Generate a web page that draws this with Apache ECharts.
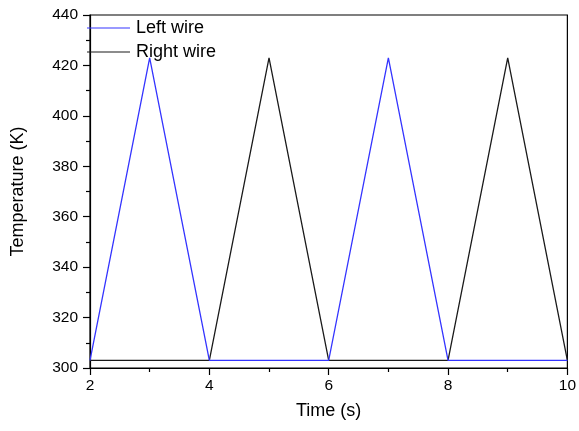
<!DOCTYPE html>
<html>
<head>
<meta charset="utf-8">
<script src="https://cdn.jsdelivr.net/npm/echarts@6/dist/echarts.min.js"></script>
<style>html,body{margin:0;padding:0;background:#fff;}#c{width:579px;height:431px;}</style>
</head>
<body>
<div id="c"></div>
<script>
const times = [2, 3, 4, 5, 6, 7, 8, 9, 10];
const leftWire = [303, 423, 303, 303, 303, 423, 303, 303, 303];
const rightWire = [303, 303, 303, 423, 303, 303, 303, 423, 303];
const seriesNames = ['Left wire', 'Right wire'];

const chart = echarts.init(document.getElementById('c'), null, {renderer: 'canvas'});
const font = '"Liberation Sans", Arial, sans-serif';
const axisCommon = {
  axisLine: {show: true, lineStyle: {color: '#000', width: 1.2}},
  axisTick: {show: true, inside: false, length: 7, lineStyle: {color: '#000', width: 1.2}},
  minorTick: {show: true, splitNumber: 2, length: 4, lineStyle: {color: '#000', width: 1.2}},
  splitLine: {show: false},
  axisLabel: {color: '#000', fontSize: 15.5, fontFamily: font},
  nameTextStyle: {color: '#000', fontSize: 18, fontFamily: font}
};
chart.setOption({
  animation: false,
  backgroundColor: '#fff',
  grid: {left: 90, right: 9, top: 15, bottom: 63, show: true, borderColor: '#000', borderWidth: 1.2},
  legend: {
    orient: 'vertical', left: 87, top: 19, padding: 0, itemGap: 6, itemWidth: 43, itemHeight: 14,
    textStyle: {fontSize: 18, fontFamily: font, color: '#000', padding: [0, 0, 0, 1]},
    data: seriesNames.map(n => ({name: n, icon: 'path://M0,0 L43,0 L43,1 L0,1 Z'}))
  },
  xAxis: Object.assign({}, axisCommon, {
    type: 'value', min: 2, max: 10, interval: 2,
    name: 'Time (s)', nameLocation: 'middle', nameGap: 34,
    axisLabel: Object.assign({}, axisCommon.axisLabel, {margin: 10})
  }),
  yAxis: Object.assign({}, axisCommon, {
    type: 'value', min: 300, max: 440, interval: 20,
    name: 'Temperature (K)', nameLocation: 'middle', nameGap: 63,
    axisLabel: Object.assign({}, axisCommon.axisLabel, {margin: 12})
  }),
  series: [
    {name: seriesNames[1], type: 'line', symbol: 'none', color: '#1a1a1a',
     lineStyle: {width: 1.3, color: '#1a1a1a'}, data: times.map((t, i) => [t, rightWire[i]])},
    {name: seriesNames[0], type: 'line', symbol: 'none', color: '#3434ff',
     lineStyle: {width: 1.3, color: '#3434ff'}, data: times.map((t, i) => [t, leftWire[i]])}
  ]
});
</script>
</body>
</html>
